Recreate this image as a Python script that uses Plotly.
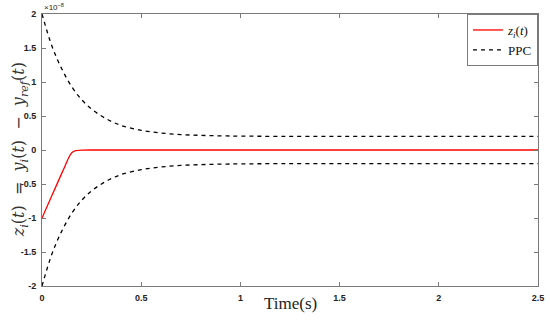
import plotly.graph_objects as go

# time samples (s)
t_bound = [0, 0.05, 0.1, 0.15, 0.2, 0.25, 0.3, 0.35, 0.4, 0.5, 0.6, 0.7, 0.8, 0.9, 1.0, 1.2, 1.5, 2.0, 2.5]
# PPC upper bound (units of 1e-8)
ppc_upper = [2.0, 1.53, 1.19, 0.93, 0.74, 0.60, 0.50, 0.42, 0.36, 0.29, 0.25, 0.227, 0.215, 0.208, 0.204, 0.201, 0.200, 0.200, 0.200]
# PPC lower bound
ppc_lower = [-v for v in ppc_upper]

t_z = [0, 0.05, 0.1, 0.12, 0.135, 0.15, 0.17, 0.2, 0.25, 0.5, 1.0, 1.5, 2.0, 2.5]
z_vals = [-1.0, -0.67, -0.34, -0.21, -0.11, -0.04, -0.01, -0.002, 0, 0, 0, 0, 0, 0]

x_ticks = [0, 0.5, 1, 1.5, 2, 2.5]
x_ticklabels = ["0", "0.5", "1", "1.5", "2", "2.5"]
y_ticks = [-2, -1.5, -1, -0.5, 0, 0.5, 1, 1.5, 2]
y_ticklabels = ["-2", "-1.5", "-1", "-0.5", "0", "0.5", "1", "1.5", "2"]

serif = "DejaVu Serif, Liberation Serif, serif"
serif2 = "Liberation Serif, DejaVu Serif, serif"
sans = "Arial, Liberation Sans, sans-serif"

fig = go.Figure()
fig.add_trace(go.Scatter(x=t_z, y=z_vals, mode="lines", name="<i>z<sub>i</sub></i>(<i>t</i>)",
                         line=dict(color="#ff0000", width=1.3, shape="spline", smoothing=0.6)))
fig.add_trace(go.Scatter(x=t_bound, y=ppc_upper, mode="lines", name="PPC",
                         line=dict(color="black", width=1.3, dash="4px,4px", shape="spline"),
                         legendgroup="ppc"))
fig.add_trace(go.Scatter(x=t_bound, y=ppc_lower, mode="lines", name="PPC", showlegend=False,
                         line=dict(color="black", width=1.3, dash="4px,4px", shape="spline"),
                         legendgroup="ppc"))

axis_common = dict(showline=True, linecolor="#7a7a7a", linewidth=1, mirror="ticks",
                   ticks="inside", ticklen=4, tickcolor="#7a7a7a", showgrid=False, zeroline=False,
                   automargin=False, ticklabelstandoff=3,
                   tickfont=dict(family=sans, size=9, color="#222", weight="bold"))

fig.update_layout(
    width=550, height=320,
    margin=dict(l=42, r=12, t=14, b=34),
    paper_bgcolor="white", plot_bgcolor="white",
    xaxis=dict(range=[0, 2.5], tickvals=x_ticks, ticktext=x_ticklabels, **axis_common),
    yaxis=dict(range=[-2, 2], tickvals=y_ticks, ticktext=y_ticklabels, **axis_common),
    legend=dict(x=1, y=1, xanchor="right", yanchor="top", bordercolor="#7a7a7a", borderwidth=1,
                bgcolor="white", font=dict(family=serif2, size=13, color="#111"),
                tracegroupgap=0, itemwidth=30),
    showlegend=True,
)
fig.add_annotation(x=0, y=1, xref="paper", yref="paper", xanchor="left", yanchor="bottom",
                   text="×10<sup>−8</sup>", showarrow=False,
                   font=dict(family=sans, size=8, color="#222"))
fig.add_annotation(x=0.5, y=-0.0625, xref="paper", yref="paper", xanchor="center", yanchor="middle",
                   text="Time(s)", showarrow=False,
                   font=dict(family=serif2, size=17, color="#222"))
fig.add_annotation(x=-0.046, y=0.5, xref="paper", yref="paper", xanchor="center", yanchor="middle",
                   textangle=-90, showarrow=False,
                   text="<i>z<sub>i</sub></i>(<i>t</i>)  =  <i>y<sub>i</sub></i>(<i>t</i>)  −  <i>y<sub>ref</sub></i>(<i>t</i>)",
                   font=dict(family=serif, size=16, color="#333"))

fig.write_html("out.html", post_script="document.body.style.margin='0';",
               config={"displayModeBar": False})
